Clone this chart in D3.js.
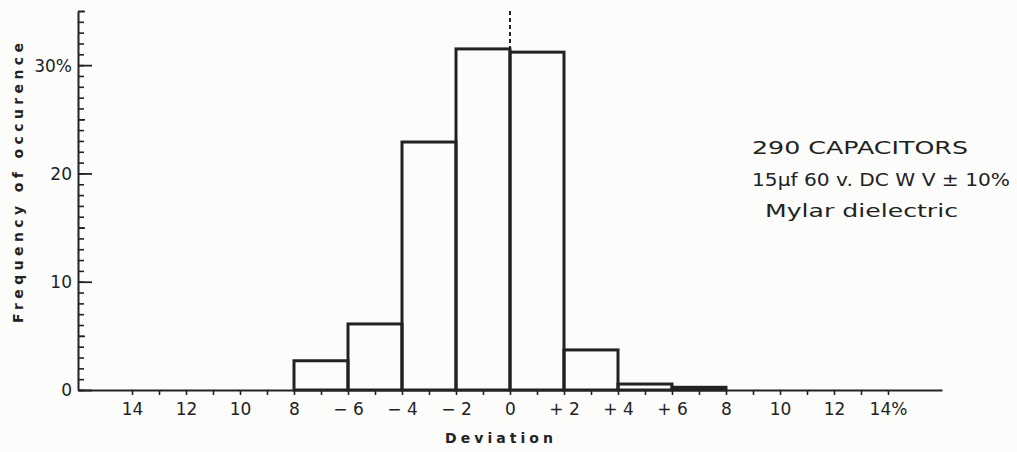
<!DOCTYPE html>
<html>
<head>
<meta charset="utf-8">
<script src="https://cdn.jsdelivr.net/npm/d3@7"></script>
<style>
  body { margin: 0; background: #fcfcfb; }
  svg { display: block; }
  .tick text { font-family: "DejaVu Sans", sans-serif; fill: #222; }
</style>
</head>
<body>
<div id="chart"></div>
<script>
// Histogram data: bins of 2% deviation, frequency in %
var binStarts = [-8, -6, -4, -2, 0, 2, 4, 6];
var binWidth = 2;
var frequency = [2.7, 6.1, 22.9, 31.5, 31.2, 3.7, 0.55, 0.25];

var xTickValues = [-14, -12, -10, -8, -6, -4, -2, 0, 2, 4, 6, 8, 10, 12, 14];
var xTickLabels = ["14", "12", "10", "8", "\u2212 6", "\u2212 4", "\u2212 2", "0", "+ 2", "+ 4", "+ 6", "8", "10", "12", "14%"];
var yTickValues = [0, 10, 20, 30];
var yTickLabels = ["0", "10", "20", "30%"];

var noteLines = ["290 CAPACITORS", "15\u00b5f 60 v. DC W V \u00b1 10%", "Mylar dielectric"];

var svgWidth = 1017;
var svgHeight = 452;
var ink = "#222";

var svg = d3.select("#chart")
    .append("svg")
        .attr("width", svgWidth)
        .attr("height", svgHeight);

// scales
var x = d3.scaleLinear()
    .domain([-16, 16])
    .range([78, 942]);
var y = d3.scaleLinear()
    .domain([0, 35])
    .range([390, 11]);

// minor y ticks every 1%
svg.append("g")
    .attr("transform", "translate(" + x(-16) + ",0)")
    .call(d3.axisLeft(y).tickValues(d3.range(0, 36, 1)).tickSizeInner(-6).tickSizeOuter(0).tickFormat(""))
    .call(g => g.select(".domain").remove())
    .selectAll("line").attr("stroke", ink).attr("stroke-width", 1.6);

// medium y ticks every 5%
svg.append("g")
    .attr("transform", "translate(" + x(-16) + ",0)")
    .call(d3.axisLeft(y).tickValues([5, 15, 25, 35]).tickSizeInner(-7).tickSizeOuter(0).tickFormat(""))
    .call(g => g.select(".domain").remove())
    .selectAll("line").attr("stroke", ink).attr("stroke-width", 1.6);

// major y ticks + labels
var yAxis = svg.append("g")
    .attr("transform", "translate(" + x(-16) + ",0)")
    .call(d3.axisLeft(y).tickValues(yTickValues).tickSizeInner(-14).tickSizeOuter(0).tickPadding(6)
        .tickFormat((d, i) => yTickLabels[i]));
yAxis.select(".domain").attr("stroke", ink).attr("stroke-width", 2);
yAxis.selectAll("line").attr("stroke", ink).attr("stroke-width", 1.8);
yAxis.selectAll("text").attr("font-size", 17).attr("dy", "0.35em");

// x axis: ticks every 1%, labels at even values
var xAxisMinor = svg.append("g")
    .attr("transform", "translate(0," + y(0) + ")")
    .call(d3.axisBottom(x).tickValues(d3.range(-14, 15, 1)).tickSizeInner(5).tickSizeOuter(0).tickFormat(""));
xAxisMinor.select(".domain").attr("stroke", ink).attr("stroke-width", 2);
xAxisMinor.selectAll("line").attr("stroke", ink).attr("stroke-width", 1.6);

svg.append("g")
    .attr("transform", "translate(0," + y(0) + ")")
    .call(d3.axisBottom(x).tickValues(xTickValues).tickSize(0).tickPadding(13)
        .tickFormat((d, i) => xTickLabels[i]))
    .call(g => g.select(".domain").remove())
    .selectAll("text").attr("font-size", 17);

// histogram bars
svg.selectAll("rect.bin")
    .data(binStarts)
    .enter()
    .append("rect")
        .attr("class", "bin")
        .attr("x", d => x(d))
        .attr("width", d => x(d + binWidth) - x(d))
        .attr("y", (d, i) => y(frequency[i]))
        .attr("height", (d, i) => y(0) - y(frequency[i]))
        .attr("fill", "none")
        .attr("stroke", ink)
        .attr("stroke-width", 3);

// dashed zero line above the bars
svg.append("line")
    .attr("x1", x(0)).attr("x2", x(0))
    .attr("y1", y(35)).attr("y2", y(d3.max(frequency)))
    .attr("stroke", ink)
    .attr("stroke-width", 2)
    .attr("stroke-dasharray", "4,3");

// axis titles
svg.append("text")
    .attr("transform", "translate(23,183) rotate(-90)")
    .attr("text-anchor", "middle")
    .attr("font-family", "DejaVu Sans, sans-serif")
    .attr("font-weight", "bold")
    .attr("font-size", 14)
    .attr("textLength", 280)
    .attr("lengthAdjust", "spacing")
    .attr("fill", ink)
    .text("Frequency of occurence");

svg.append("text")
    .attr("x", 499)
    .attr("y", 443)
    .attr("text-anchor", "middle")
    .attr("font-family", "DejaVu Sans, sans-serif")
    .attr("font-weight", "bold")
    .attr("font-size", 14)
    .attr("textLength", 108)
    .attr("lengthAdjust", "spacing")
    .attr("fill", ink)
    .text("Deviation");

// annotation
var noteX = [752, 752, 765];
var noteY = [154, 186, 217];
var noteLen = [216, 258, 193];
svg.selectAll("text.note")
    .data(noteLines)
    .enter()
    .append("text")
        .attr("class", "note")
        .attr("x", (d, i) => noteX[i])
        .attr("y", (d, i) => noteY[i])
        .attr("font-family", "DejaVu Sans, sans-serif")
        .attr("font-size", 17)
        .attr("textLength", (d, i) => noteLen[i])
        .attr("lengthAdjust", "spacingAndGlyphs")
        .attr("fill", ink)
        .text(d => d);
</script>
</body>
</html>
